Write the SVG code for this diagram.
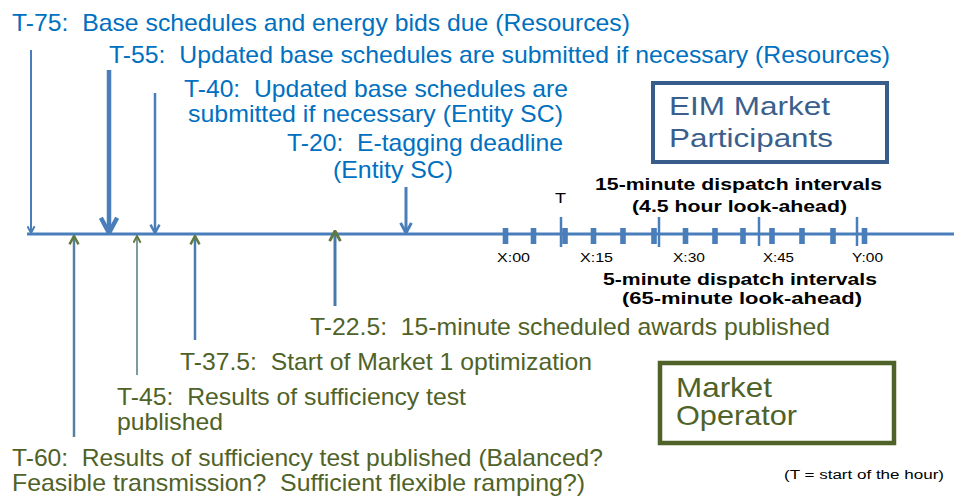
<svg xmlns="http://www.w3.org/2000/svg" width="954" height="496" viewBox="0 0 954 496">
  <defs>
    <style>
      text { font-family: "Liberation Sans", Arial, sans-serif; white-space: pre; }
      .blue { fill: #0070c0; font-size: 24px; }
      .green { fill: #4f6228; font-size: 24px; }
      .bold { fill: #000; font-size: 17px; font-weight: bold; }
      .tick { fill: #000; font-size: 13px; }
      .axis { stroke: #4a7ebb; stroke-width: 3; fill: none; }
      .down { stroke: #4a7ebb; fill: none; marker-end: url(#chevBlue); }
      .up { fill: none; marker-end: url(#chevOlive); }
      .blk { fill: #4a7ebb; }
      .qtr { stroke: #4a7ebb; stroke-width: 2.5; }
    </style>
    <marker id="chevBlue" viewBox="0 0 10 10" refX="9" refY="5" markerWidth="4.5" markerHeight="4.5" orient="auto" markerUnits="strokeWidth">
      <path d="M1.5,1 L9,5 L1.5,9" fill="none" stroke="#4a7ebb" stroke-width="2.2"/>
    </marker>
    <marker id="chevOlive" viewBox="0 0 10 10" refX="9" refY="5" markerWidth="4.5" markerHeight="4.5" orient="auto" markerUnits="strokeWidth">
      <path d="M1.5,1 L9,5 L1.5,9" fill="none" stroke="#5f7a3e" stroke-width="2.2"/>
    </marker>
  </defs>
  <rect width="954" height="496" fill="#ffffff"/>

  <!-- time axis with 5-minute and 15-minute interval ticks -->
  <g id="timeline">
    <line class="axis" x1="27" y1="234" x2="954" y2="234"/>
    <g id="five-minute-ticks">
      <rect class="blk" x="502.7" y="228" width="5.6" height="16"/>
      <rect class="blk" x="530.7" y="228" width="5.6" height="16"/>
      <rect class="blk" x="562.2" y="228" width="5.6" height="16"/>
      <rect class="blk" x="590.7" y="228" width="5.6" height="16"/>
      <rect class="blk" x="620.2" y="228" width="5.6" height="16"/>
      <rect class="blk" x="651.2" y="228" width="5.6" height="16"/>
      <rect class="blk" x="682.7" y="228" width="5.6" height="16"/>
      <rect class="blk" x="712.2" y="228" width="5.6" height="16"/>
      <rect class="blk" x="740.2" y="228" width="5.6" height="16"/>
      <rect class="blk" x="769.2" y="228" width="5.6" height="16"/>
      <rect class="blk" x="799.2" y="228" width="5.6" height="16"/>
      <rect class="blk" x="830.2" y="228" width="5.6" height="16"/>
      <rect class="blk" x="861.7" y="228" width="5.6" height="16"/>
    </g>
    <g id="fifteen-minute-ticks">
      <line class="qtr" x1="561" y1="217" x2="561" y2="247"/>
      <line class="qtr" x1="659" y1="217" x2="659" y2="247"/>
      <line class="qtr" x1="759" y1="217" x2="759" y2="246"/>
      <line class="qtr" x1="857" y1="217" x2="857" y2="246"/>
    </g>
    <text x="555" y="203" style="font-size:14px" textLength="11" lengthAdjust="spacingAndGlyphs">T</text>
    <text class="tick" x="497" y="262" textLength="33" lengthAdjust="spacingAndGlyphs">X:00</text>
    <text class="tick" x="580" y="262" textLength="33" lengthAdjust="spacingAndGlyphs">X:15</text>
    <text class="tick" x="673" y="262" textLength="32" lengthAdjust="spacingAndGlyphs">X:30</text>
    <text class="tick" x="763" y="262" textLength="31" lengthAdjust="spacingAndGlyphs">X:45</text>
    <text class="tick" x="852" y="262" textLength="31" lengthAdjust="spacingAndGlyphs">Y:00</text>
  </g>

  <!-- event arrows: participants above the axis, operator below -->
  <g id="connectors">
    <line class="down" x1="31" y1="50" x2="31" y2="233" stroke-width="2"/>
    <line class="down" x1="109" y1="70" x2="109" y2="233" stroke-width="4.5"/>
    <line class="down" x1="155" y1="93" x2="155" y2="233" stroke-width="2.5"/>
    <line class="down" x1="406" y1="187" x2="406" y2="233" stroke-width="3"/>
    <line class="up" x1="74" y1="437" x2="74" y2="236" stroke="#56809e" stroke-width="2.5"/>
    <line class="up" x1="137" y1="375" x2="137" y2="236" stroke="#7d9c9e" stroke-width="2"/>
    <line class="up" x1="195" y1="340" x2="195" y2="236" stroke="#4a7cb2" stroke-width="2.5"/>
    <line class="up" x1="335" y1="306" x2="335" y2="231" stroke="#4a78ad" stroke-width="3"/>
  </g>

  <g id="t75">
    <text class="blue" x="12" y="31" textLength="618" lengthAdjust="spacingAndGlyphs">T-75:  Base schedules and energy bids due (Resources)</text>
  </g>
  <g id="t55">
    <text class="blue" x="109" y="63" textLength="781" lengthAdjust="spacingAndGlyphs">T-55:  Updated base schedules are submitted if necessary (Resources)</text>
  </g>
  <g id="t40">
    <text class="blue" x="184" y="97" textLength="384" lengthAdjust="spacingAndGlyphs">T-40:  Updated base schedules are</text>
    <text class="blue" x="188" y="122" textLength="375" lengthAdjust="spacingAndGlyphs">submitted if necessary (Entity SC)</text>
  </g>
  <g id="t20">
    <text class="blue" x="287" y="151" textLength="276" lengthAdjust="spacingAndGlyphs">T-20:  E-tagging deadline</text>
    <text class="blue" x="333" y="178" textLength="120" lengthAdjust="spacingAndGlyphs">(Entity SC)</text>
  </g>

  <g id="eim-participants">
    <rect x="653" y="83" width="234" height="79" fill="none" stroke="#385d8a" stroke-width="4"/>
    <text x="669" y="115" style="font-size:26px;fill:#3b5f8c" textLength="161" lengthAdjust="spacingAndGlyphs">EIM Market</text>
    <text x="669" y="147" style="font-size:26px;fill:#3b5f8c" textLength="164" lengthAdjust="spacingAndGlyphs">Participants</text>
  </g>

  <g id="fifteen-minute-intervals">
    <text class="bold" x="595" y="190" textLength="287" lengthAdjust="spacingAndGlyphs">15-minute dispatch intervals</text>
    <text class="bold" x="632" y="212" textLength="215" lengthAdjust="spacingAndGlyphs">(4.5 hour look-ahead)</text>
  </g>
  <g id="five-minute-intervals">
    <text class="bold" x="603" y="285" textLength="274" lengthAdjust="spacingAndGlyphs">5-minute dispatch intervals</text>
    <text class="bold" x="622" y="304" textLength="240" lengthAdjust="spacingAndGlyphs">(65-minute look-ahead)</text>
  </g>

  <g id="t22-5">
    <text class="green" x="310" y="335" textLength="520" lengthAdjust="spacingAndGlyphs">T-22.5:  15-minute scheduled awards published</text>
  </g>
  <g id="t37-5">
    <text class="green" x="180" y="370" textLength="412" lengthAdjust="spacingAndGlyphs">T-37.5:  Start of Market 1 optimization</text>
  </g>
  <g id="t45">
    <text class="green" x="117" y="405" textLength="349" lengthAdjust="spacingAndGlyphs">T-45:  Results of sufficiency test</text>
    <text class="green" x="117" y="430" textLength="106" lengthAdjust="spacingAndGlyphs">published</text>
  </g>
  <g id="t60">
    <text class="green" x="12" y="466" textLength="591" lengthAdjust="spacingAndGlyphs">T-60:  Results of sufficiency test published (Balanced?</text>
    <text class="green" x="12" y="491" textLength="573" lengthAdjust="spacingAndGlyphs">Feasible transmission?  Sufficient flexible ramping?)</text>
  </g>

  <g id="market-operator">
    <rect x="660" y="363" width="234" height="80" fill="none" stroke="#4f6228" stroke-width="4.5"/>
    <text x="676" y="397" style="font-size:28px;fill:#4f6228" textLength="96" lengthAdjust="spacingAndGlyphs">Market</text>
    <text x="676" y="425" style="font-size:28px;fill:#4f6228" textLength="121" lengthAdjust="spacingAndGlyphs">Operator</text>
  </g>

  <g id="note">
    <text x="784" y="479" style="font-size:12px" textLength="160" lengthAdjust="spacingAndGlyphs">(T = start of the hour)</text>
  </g>
</svg>
